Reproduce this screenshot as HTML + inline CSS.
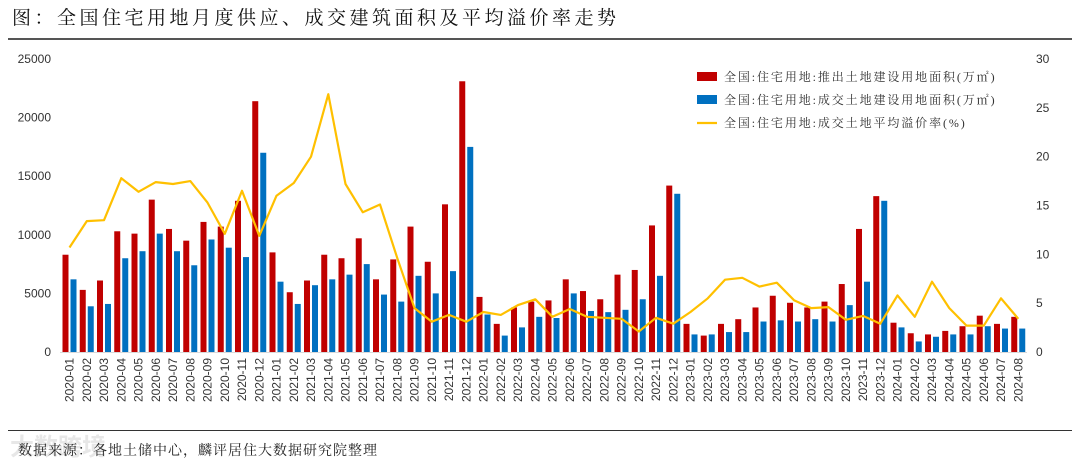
<!DOCTYPE html>
<html><head><meta charset="utf-8">
<style>
html,body{margin:0;padding:0;background:#fff;}
body{width:1080px;height:462px;overflow:hidden;position:relative;font-family:"Liberation Sans","Noto Sans CJK SC",sans-serif;}
#title{position:absolute;left:12px;top:3px;font-family:"Liberation Serif","Noto Serif CJK SC",serif;font-size:19px;color:#111;letter-spacing:3.5px;}
#topline{position:absolute;left:8px;top:38px;width:1064px;height:2px;background:#555;}
#botline{position:absolute;left:8px;top:430px;width:1064px;height:1px;background:#333;}
#src{position:absolute;left:18px;top:440px;font-family:"Liberation Serif","Noto Serif CJK SC",serif;font-size:14px;color:#222;letter-spacing:1px;}
#wm{position:absolute;left:10px;top:427px;font-size:24px;color:rgba(215,215,215,0.6);font-weight:bold;}
svg{position:absolute;left:0;top:0;}
</style></head><body>
<div id="title">图：全国住宅用地月度供应、成交建筑面积及平均溢价率走势</div>
<div id="topline"></div>
<svg id="chart" width="1080" height="462"></svg>
<div id="botline"></div>
<div id="wm">大数跨境</div>
<div id="src">数据来源：各地土储中心，麟评居住大数据研究院整理</div>
<script>
const categories = [];
for (let y = 2020; y <= 2024; y++) for (let m = 1; m <= 12; m++) { if (y === 2024 && m > 8) break; categories.push(y + '-' + String(m).padStart(2, '0')); }
const supplyArea = [8300,5300,6100,10300,10100,13000,10500,9500,11100,10700,12900,21400,
 8500,5100,6100,8300,8000,9700,6200,7900,10700,7700,12600,23100,
 4700,2400,3800,4300,4400,6200,5200,4500,6600,7000,10800,14200,
 2400,1400,2400,2800,3800,4800,4200,3800,4300,5800,10500,13300,
 2500,1600,1500,1800,2200,3100,2400,3000];
const dealArea = [6200,3900,4100,8000,8600,10100,8600,7400,9600,8900,8100,17000,
 6000,4100,5700,6200,6600,7500,4900,4300,6500,5000,6900,17500,
 3200,1400,2100,3000,2900,5000,3500,3400,3600,4500,6500,13500,
 1500,1500,1700,1700,2600,2700,2600,2800,2600,4000,6000,12900,
 2100,900,1300,1500,1500,2200,2000,2000];
const premiumRate = [10.7,13.4,13.5,17.8,16.4,17.4,17.2,17.5,15.3,12.1,16.5,11.9,
 16.0,17.3,20.0,26.4,17.2,14.3,15.1,9.6,4.5,3.1,3.8,3.1,
 4.1,3.8,4.8,5.4,3.6,4.4,3.6,3.5,3.4,2.1,3.5,2.9,
 4.1,5.5,7.4,7.6,6.7,7.1,5.3,4.5,4.6,3.3,3.7,2.9,
 5.8,3.6,7.2,4.5,2.7,2.7,5.5,3.4];
const leftTicks = [0,5000,10000,15000,20000,25000];
const rightTicks = [0,5,10,15,20,25,30];
const legendLabels = ['全国:住宅用地:推出土地建设用地面积(万㎡)','全国:住宅用地:成交土地建设用地面积(万㎡)','全国:住宅用地:成交土地平均溢价率(%)'];

const svg = document.getElementById('chart');
const NS = 'http://www.w3.org/2000/svg';
const y0 = 352, yTop = 59, x0 = 69.5, step = 17.25;
const yL = v => y0 - (v / 25000) * (y0 - yTop);
const yR = v => y0 - (v / 30) * (y0 - yTop);
const xC = i => x0 + step * i;
function mk(tag, attrs) { const e = document.createElementNS(NS, tag); for (const k in attrs) e.setAttribute(k, attrs[k]); svg.appendChild(e); return e; }

const axis = mk('line', {x1: 60, x2: 1027, y1: y0 + 0.5, y2: y0 + 0.5, stroke: '#d9d9d9', 'stroke-width': 1});



leftTicks.forEach(t => {
  const e = mk('text', {x: 51, y: yL(t) + 4, 'text-anchor': 'end', 'font-size': 12, fill: '#333'});
  e.textContent = t;
  
  
});
rightTicks.forEach(t => {
  const e = mk('text', {x: 1036, y: yR(t) + 4, 'font-size': 12, fill: '#333'});
  e.textContent = t;
  
  
});

categories.forEach((c, i) => {
  const x = xC(i);
  const r = mk('rect', {x: x - 7, y: yL(supplyArea[i]), width: 6, height: y0 - yL(supplyArea[i]), fill: '#c00000'});
  
  
  const b = mk('rect', {x: x + 1, y: yL(dealArea[i]), width: 6, height: y0 - yL(dealArea[i]), fill: '#0070c0'});
  
  
  const t = mk('text', {x: 0, y: 0, 'font-size': 12, fill: '#333', 'text-anchor': 'end', transform: 'translate(' + (x + 4) + ',358) rotate(-90)'});
  t.textContent = c;
  
  
});

const pts = premiumRate.map((v, i) => xC(i).toFixed(1) + ',' + yR(v).toFixed(1)).join(' ');
const line = mk('polyline', {points: pts, fill: 'none', stroke: '#ffc000', 'stroke-width': 2.2, 'stroke-linejoin': 'round'});



const lf = '"Liberation Serif","Noto Serif CJK SC",serif';
legendLabels.forEach((lab, i) => {
  const ly = 77 + i * 23;
  let sw;
  if (i < 2) sw = mk('rect', {x: 697, y: ly - 5, width: 20, height: 9, fill: i === 0 ? '#c00000' : '#0070c0'});
  else sw = mk('line', {x1: 697, x2: 717, y1: ly, y2: ly, stroke: '#ffc000', 'stroke-width': 2.2});
  
  
  const t = mk('text', {x: 724, y: ly + 4, 'font-size': 12, fill: '#333', 'font-family': lf, 'letter-spacing': 1.9});
  t.textContent = lab;
  
  
});
</script>
</body></html>
